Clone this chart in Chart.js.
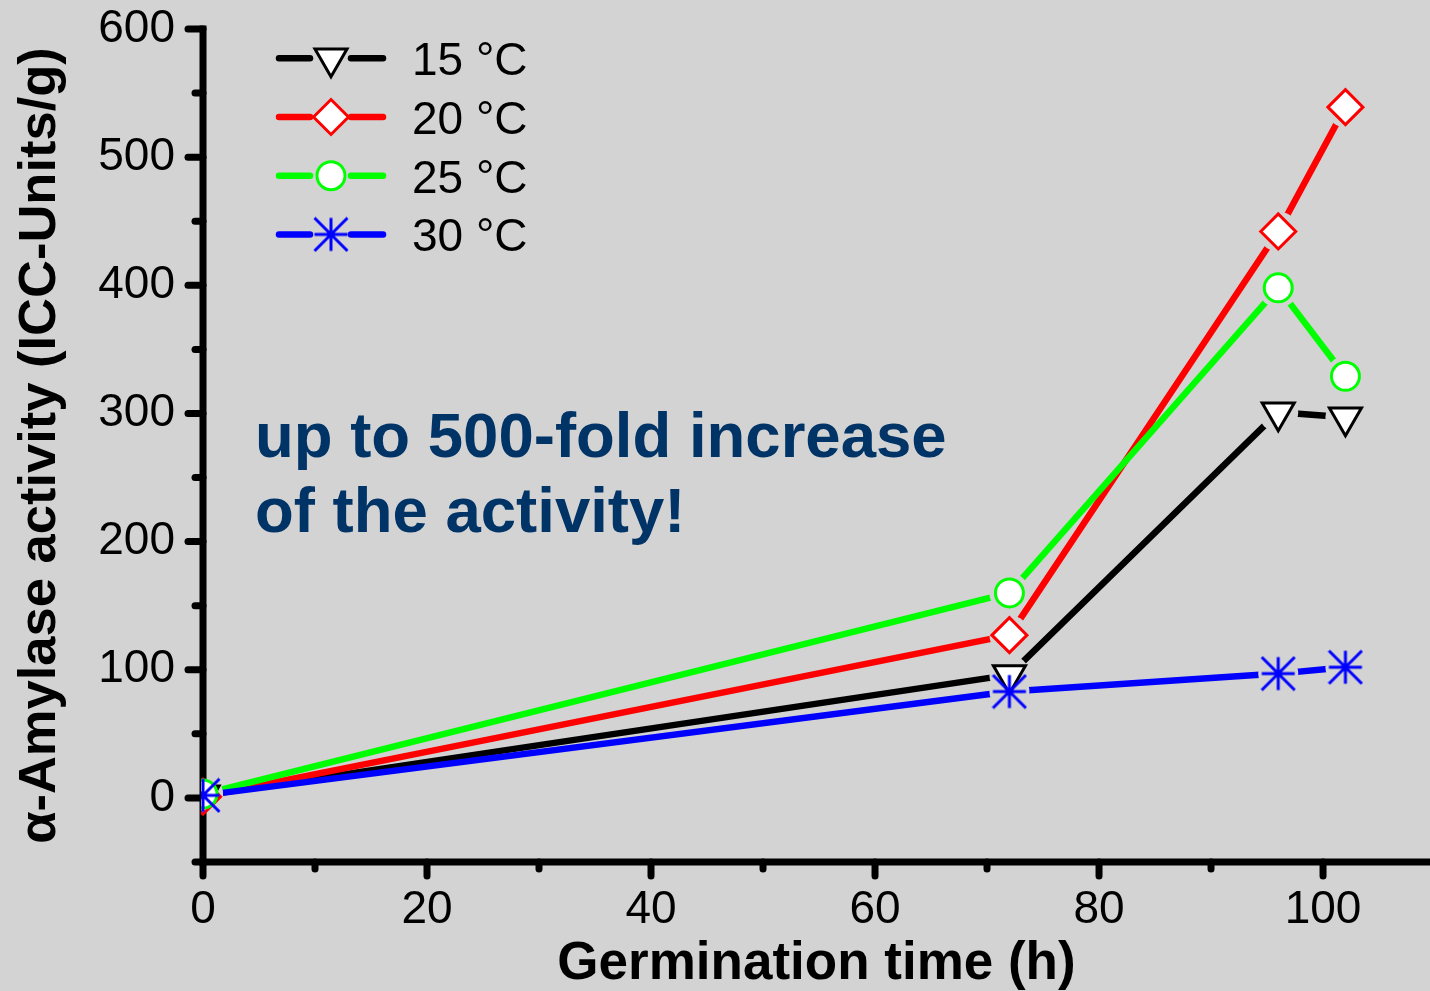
<!DOCTYPE html>
<html>
<head>
<meta charset="utf-8">
<script src="https://cdn.jsdelivr.net/npm/chart.js@4.4.0/dist/chart.umd.min.js"></script>
<style>
html,body{margin:0;padding:0;background:#d3d3d3;}
canvas{display:block;}
</style>
</head>
<body>
<canvas id="c" width="1430" height="991"></canvas>
<script>
// ---- data ----
const hours = [0, 72, 96, 102];
const seriesLabels = ['15 °C', '20 °C', '25 °C', '30 °C'];
const act15 = [2, 96, 301, 297];
const act20 = [1, 127, 442, 539];
const act25 = [3, 160, 398, 329];
const act30 = [2, 83, 97, 102];
const xTickLabels = [0, 20, 40, 60, 80, 100];
const xMinorTicks = [10, 30, 50, 70, 90];
const yTickLabels = [0, 100, 200, 300, 400, 500, 600];
const yMinorTicks = [-50, 50, 150, 250, 350, 450, 550];
const xTitle = 'Germination time (h)';
const yTitle = 'α-Amylase activity (ICC-Units/g)';
const annotationLines = ['up to 500-fold increase', 'of the activity!'];

// ---- styles ----
const BG = '#d3d3d3';
const FONT = '"Liberation Sans", Arial, sans-serif';
Chart.defaults.font.family = FONT;

function makeAsterisk(color) {
  const s = 36, c = document.createElement('canvas');
  c.width = s; c.height = s;
  const g = c.getContext('2d');
  g.strokeStyle = color; g.lineWidth = 3;
  const m = s / 2, a = 16.5;
  g.beginPath();
  g.moveTo(m - a, m); g.lineTo(m + a, m);
  g.moveTo(m, m - a); g.lineTo(m, m + a);
  g.moveTo(m - a, m - a); g.lineTo(m + a, m + a);
  g.moveTo(m + a, m - a); g.lineTo(m - a, m + a);
  g.stroke();
  return c;
}

const styles = [
  {color: '#000000', pointStyle: 'triangle', radius: 18.5, rotation: 180},
  {color: '#ff0000', pointStyle: 'rectRot', radius: 17.5, rotation: 0},
  {color: '#00ff00', pointStyle: 'circle', radius: 14, rotation: 0},
  {color: '#0000ff', pointStyle: makeAsterisk('#0000ff'), radius: 18, rotation: 0}
];

const seriesData = [act15, act20, act25, act30];
const toPts = arr => hours.map((h, i) => ({x: h, y: arr[i]}));
const clipMain = {left: 2, top: false, right: false, bottom: false};
const clipHalo = {left: -5, top: false, right: false, bottom: false};

const datasets = [];
seriesData.forEach((arr, i) => {
  const st = styles[i];
  datasets.push({
    label: seriesLabels[i] + ' line', data: toPts(arr),
    borderColor: st.color, borderWidth: 6.5, borderCapStyle: 'round', borderJoinStyle: 'round',
    pointRadius: 0, fill: false, tension: 0, order: 40 - i, clip: clipMain
  });
  datasets.push({
    label: seriesLabels[i] + ' gap', data: toPts(arr), showLine: false,
    pointRadius: 20, pointBackgroundColor: BG, pointBorderColor: BG, pointBorderWidth: 0,
    order: 20, clip: clipHalo
  });
  datasets.push({
    label: seriesLabels[i], data: toPts(arr), showLine: false,
    pointStyle: st.pointStyle, pointRadius: st.radius, pointRotation: st.rotation,
    pointBackgroundColor: '#ffffff', pointBorderColor: st.color, pointBorderWidth: 3,
    order: 10 - i, clip: clipMain
  });
});

function seg(ctx, x1, y1, x2, y2) {
  ctx.beginPath(); ctx.moveTo(x1, y1); ctx.lineTo(x2, y2); ctx.stroke();
}

const decor = {
  id: 'decor',
  beforeDraw(chart) {
    const ctx = chart.ctx;
    ctx.save();
    ctx.fillStyle = BG;
    ctx.fillRect(0, 0, chart.width, chart.height);
    ctx.restore();
  },
  beforeDatasetsDraw(chart) {
    const {ctx, chartArea, scales: {x, y}} = chart;
    const L = chartArea.left, B = chartArea.bottom, T = chartArea.top;
    ctx.save();
    ctx.strokeStyle = '#000';
    ctx.lineWidth = 7;
    ctx.lineCap = 'round';
    yTickLabels.forEach(v => { const p = y.getPixelForValue(v); seg(ctx, L - 15, p, L, p); });
    yMinorTicks.forEach(v => { const p = y.getPixelForValue(v); seg(ctx, L - 8, p, L, p); });
    xTickLabels.forEach(v => { const p = x.getPixelForValue(v); seg(ctx, p, B, p, B + 14); });
    xMinorTicks.forEach(v => { const p = x.getPixelForValue(v); seg(ctx, p, B, p, B + 7); });
    ctx.lineCap = 'square';
    seg(ctx, L, T, L, B);
    seg(ctx, L, B, chart.width + 5, B);
    // annotation
    ctx.fillStyle = '#003366';
    ctx.font = 'bold 63.5px ' + FONT;
    ctx.textBaseline = 'alphabetic';
    ctx.textAlign = 'left';
    ctx.fillText(annotationLines[0], 255, 457);
    ctx.fillText(annotationLines[1], 255, 532);
    ctx.restore();
  },
  afterDatasetsDraw(chart) {
    const ctx = chart.ctx;
    ctx.save();
    seriesLabels.forEach((lab, i) => {
      const st = styles[i];
      const ry = 58.3 + i * 58.7;
      ctx.strokeStyle = st.color;
      ctx.lineWidth = 6.5;
      ctx.lineCap = 'round';
      seg(ctx, 279, ry, 310, ry);
      seg(ctx, 351, ry, 383, ry);
      ctx.fillStyle = '#ffffff';
      ctx.strokeStyle = st.color;
      ctx.lineWidth = 3;
      Chart.helpers.drawPoint(ctx, {pointStyle: st.pointStyle, radius: st.radius, rotation: st.rotation, borderWidth: 3}, 331, ry);
      ctx.fillStyle = '#000';
      ctx.font = '46px ' + FONT;
      ctx.textBaseline = 'alphabetic';
      ctx.textAlign = 'left';
      ctx.fillText(lab, 412, ry + 17);
    });
    ctx.restore();
  }
};

new Chart(document.getElementById('c'), {
  type: 'line',
  data: {datasets},
  options: {
    responsive: false,
    animation: false,
    devicePixelRatio: 1,
    events: [],
    layout: {autoPadding: false, padding: {top: 29, left: 0, right: 0, bottom: 0}},
    plugins: {legend: {display: false}, tooltip: {enabled: false}},
    scales: {
      x: {
        type: 'linear', position: 'bottom', min: 0, max: 109.55, bounds: 'data',
        grid: {display: false, drawTicks: false},
        border: {display: false},
        afterBuildTicks: s => { s.ticks = xTickLabels.map(v => ({value: v})); },
        ticks: {padding: 21, color: '#000', font: {size: 46}, maxRotation: 0, minRotation: 0, autoSkip: false,
                callback: v => String(v)},
        title: {display: true, text: xTitle, color: '#000',
                font: {size: 53, weight: 'bold', lineHeight: 1}, padding: {top: 0, bottom: 0}},
        afterFit: s => { s.height = 129; s.paddingLeft = 0; s.paddingRight = 0; }
      },
      y: {
        type: 'linear', position: 'left', min: -50, max: 600, bounds: 'data',
        grid: {display: false, drawTicks: false},
        border: {display: false},
        afterBuildTicks: s => { s.ticks = yTickLabels.map(v => ({value: v})); },
        ticks: {padding: 28, color: '#000', font: {size: 46}, autoSkip: false,
                callback: v => String(v)},
        title: {display: true, text: yTitle, color: '#000',
                font: {size: 52.5, weight: 'bold', lineHeight: 1}, padding: {top: 14, bottom: 0}},
        afterFit: s => { s.width = 203; s.paddingTop = 0; s.paddingBottom = 0; }
      }
    }
  },
  plugins: [decor]
});
</script>
</body>
</html>
